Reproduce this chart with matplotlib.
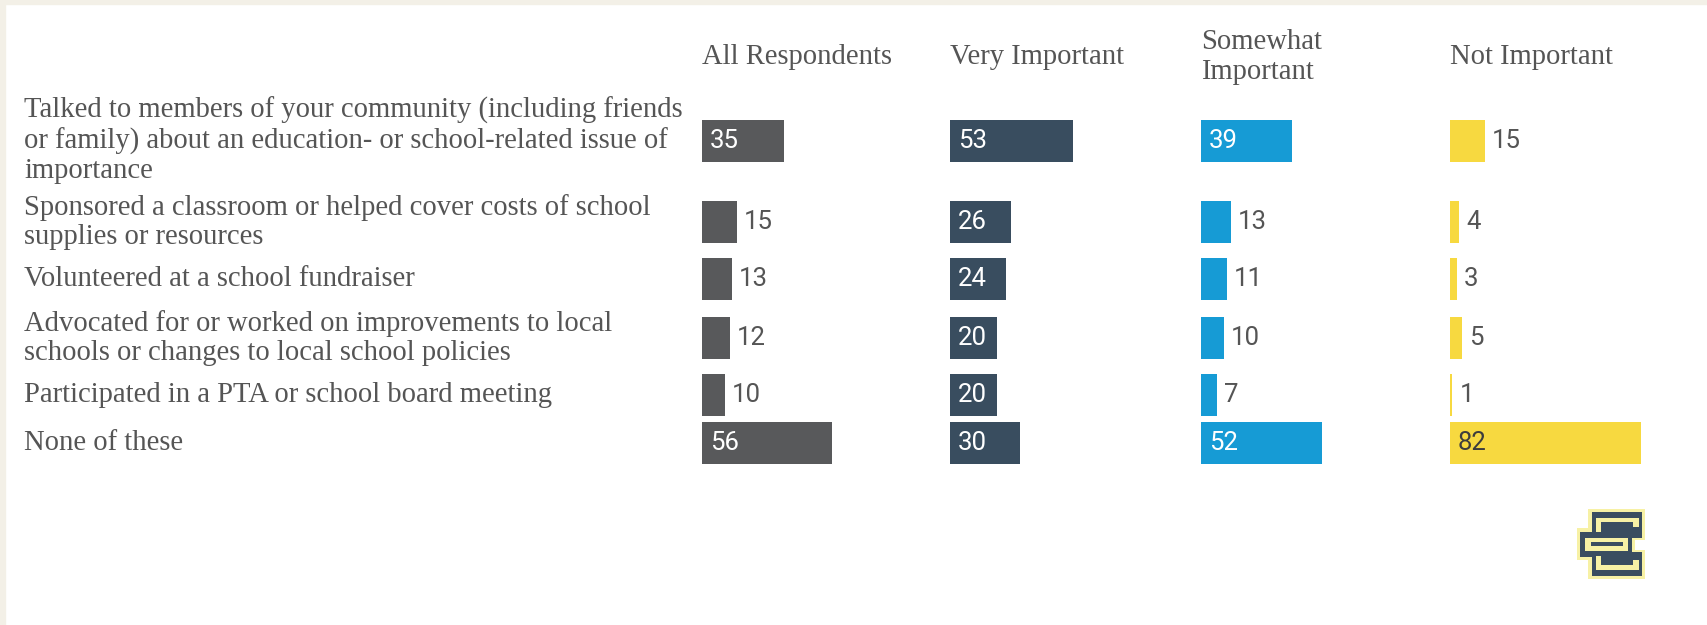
import matplotlib
matplotlib.use("Agg")
import matplotlib.pyplot as plt
from matplotlib.patches import Rectangle
import numpy as np

# survey data (% of respondents)
activities = [
    "Talked to members of your community (including friends\nor family) about an education- or school-related issue of\nimportance",
    "Sponsored a classroom or helped cover costs of school\nsupplies or resources",
    "Volunteered at a school fundraiser",
    "Advocated for or worked on improvements to local\nschools or changes to local school policies",
    "Participated in a PTA or school board meeting",
    "None of these",
]
groups = ["All Respondents", "Very Important", "Somewhat\nImportant", "Not Important"]
all_respondents = [35, 15, 13, 12, 10, 56]
very_important = [53, 26, 24, 20, 20, 30]
somewhat_important = [39, 13, 11, 10, 7, 52]
not_important = [15, 4, 3, 5, 1, 82]

# layout (pixels)
W, H = 1707, 625
row_y = [140.5, 222, 279, 338, 394.5, 443]
col_left = [702, 950, 1201, 1450]
px_per_unit = 2.33
bar_h = 42
colors = ["#58595b", "#394d5f", "#169bd5", "#f7d940"]
inside_text = ["white", "white", "white", "#3d3d3d"]

serif = "Liberation Serif"
num_font = ["Roboto", "DejaVu Sans"]
text_gray = "#555555"

fig = plt.figure(figsize=(W / 100, H / 100), dpi=100)
fig.patch.set_facecolor("white")

# beige frame along the top and left edges
fig.patches.append(Rectangle((0, 1 - 4 / H), 1, 4 / H, transform=fig.transFigure,
                             color="#f3f0e7", zorder=0))
fig.patches.append(Rectangle((0, 0), 5 / W, 1, transform=fig.transFigure,
                             color="#f3f0e7", zorder=0))

# row labels
for label, y in zip(activities, row_y):
    fig.text(24 / W, 1 - y / H, label, ha="left", va="center", family=serif,
             fontsize=20.6, color=text_gray, linespacing=1.17)

series = [all_respondents, very_important, somewhat_important, not_important]
for i, (grp, vals) in enumerate(zip(groups, series)):
    ax = fig.add_axes([col_left[i] / W, 0, 100 * px_per_unit / W, 1])
    ax.set_xlim(0, 100)
    ax.set_ylim(H, 0)
    ax.axis("off")
    ax.barh(row_y, vals, height=bar_h, color=colors[i])
    ax.text(0, 57, grp, ha="left", va="center", family=serif, fontsize=20.6,
            color=text_gray, linespacing=1.17)
    for v, y in zip(vals, row_y):
        if v >= 20:
            ax.text(8 / px_per_unit, y, str(v), ha="left", va="center",
                    family=num_font, fontsize=18.5, color=inside_text[i])
        else:
            ax.text(v + 7 / px_per_unit, y, str(v), ha="left", va="center",
                    family=num_font, fontsize=18.5, color=text_gray)

# logo in the bottom right corner
lg = fig.add_axes([1560 / W, 1 - 595 / H, 100 / W, 100 / H])
lg.set_xlim(0, 300)
lg.set_ylim(300, 0)
lg.axis("off")
pale, navy = "#f7f1a5", "#3a4d60"

def box(x0, y0, x1, y1, c):
    lg.add_patch(Rectangle((x0, y0), x1 - x0, y1 - y0, color=c, lw=0))

for x0, y0, x1, y1 in [(85, 42, 255, 135), (50, 100, 225, 195), (85, 165, 255, 252)]:
    box(x0, y0, x1, y1, pale)
for x0, y0, x1, y1 in [(95, 52, 245, 128), (60, 110, 215, 185), (95, 172, 245, 242)]:
    box(x0, y0, x1, y1, navy)
# inner strips
box(107, 68, 237, 112, pale)
box(124, 82, 220, 96, navy)
box(124, 96, 237, 112, navy)
box(75, 128, 205, 168, pale)
box(92, 142, 188, 154, navy)
box(107, 182, 237, 226, pale)
box(124, 196, 220, 210, navy)
box(124, 182, 237, 196, navy)

fig.savefig("out.png", dpi=100, facecolor="white")
